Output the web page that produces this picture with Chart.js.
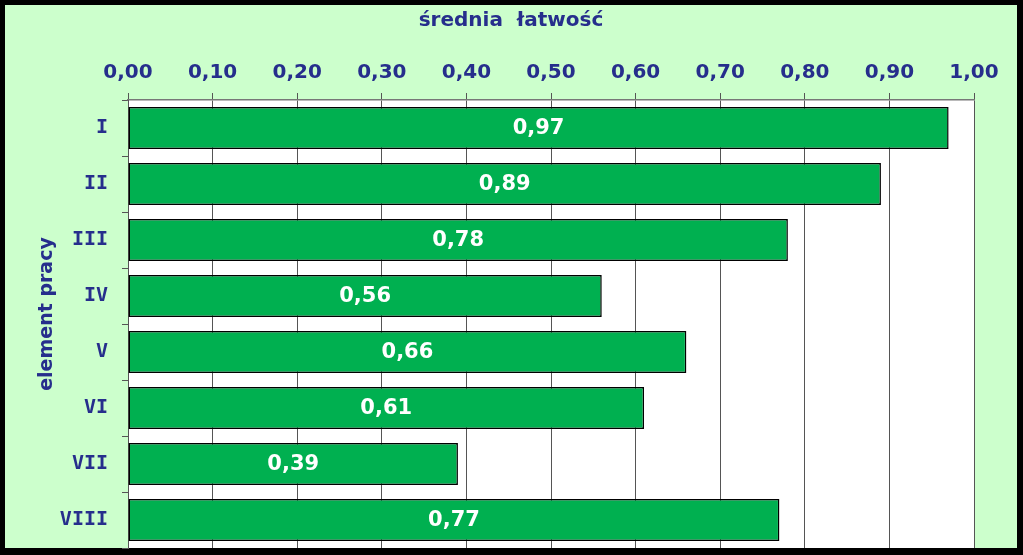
<!DOCTYPE html>
<html>
<head>
<meta charset="utf-8">
<script src="https://cdn.jsdelivr.net/npm/chart.js@4"></script>
<style>
  body { margin: 0; background: #000; }
  canvas { display: block; }
</style>
</head>
<body>
<canvas id="latwosc" width="1023" height="555"></canvas>
<script>
const elementy = ['I', 'II', 'III', 'IV', 'V', 'VI', 'VII', 'VIII'];
const latwosc = [0.97, 0.89, 0.78, 0.56, 0.66, 0.61, 0.39, 0.77];
const tytulX = 'średnia  łatwość';
const tytulY = 'element pracy';

const granat = '#262E8C';
const czcionka = 'DejaVu Sans';

// tlo, ramka, biale pole wykresu i oba tytuly
const tlo = {
    id: 'tlo',
    beforeDraw(chart) {
        const c = chart.ctx;
        const a = chart.chartArea;
        c.save();
        c.fillStyle = '#000000';
        c.fillRect(0, 0, chart.width, chart.height);
        c.fillStyle = '#CCFFCC';
        c.fillRect(5, 5, 1012, 543);
        c.fillStyle = '#FFFFFF';
        c.fillRect(a.left, a.top, a.right - a.left, a.bottom - a.top);
        c.fillStyle = granat;
        c.font = 'bold 20px "' + czcionka + '"';
        c.textAlign = 'center';
        c.textBaseline = 'middle';
        c.fillText(tytulX, 511, 21);
        c.translate(47, 314);
        c.rotate(-Math.PI / 2);
        c.font = 'bold 19px "' + czcionka + '"';
        c.fillText(tytulY, 0, 0);
        c.restore();
    }
};

// wartosci na slupkach
const etykiety = {
    id: 'etykiety',
    afterDatasetsDraw(chart) {
        const c = chart.ctx;
        const meta = chart.getDatasetMeta(0);
        c.save();
        c.fillStyle = '#FFFFFF';
        c.font = 'bold 21px "' + czcionka + '"';
        c.textAlign = 'center';
        c.textBaseline = 'middle';
        meta.data.forEach((bar, i) => {
            const x = (bar.base + bar.x) / 2;
            c.fillText(latwosc[i].toFixed(2).replace('.', ','), x, bar.y + 1);
        });
        c.restore();
    }
};

const ctx = document.getElementById('latwosc').getContext('2d');
const wykres = new Chart(ctx, {
    type: 'bar',
    data: {
        labels: elementy,
        datasets: [{
            label: tytulX,
            data: latwosc,
            backgroundColor: '#00B050',
            borderColor: '#000000',
            borderWidth: 1.5,
            borderSkipped: false,
            categoryPercentage: 1,
            barPercentage: 0.75
        }]
    },
    options: {
        indexAxis: 'y',
        responsive: false,
        animation: false,
        layout: {
            padding: { left: 5, top: 5, right: 49, bottom: 7 }
        },
        plugins: {
            legend: { display: false },
            tooltip: { enabled: false }
        },
        scales: {
            x: {
                position: 'top',
                min: 0,
                max: 1,
                afterFit(scale) { scale.height = 95; },
                ticks: {
                    stepSize: 0.1,
                    color: granat,
                    padding: 8,
                    font: { family: czcionka, size: 20, weight: 'bold' },
                    callback: (v) => v.toFixed(2).replace('.', ',')
                },
                grid: {
                    color: '#555555',
                    lineWidth: 1,
                    tickLength: 7
                },
                border: { color: '#777777', width: 1.5 }
            },
            y: {
                afterFit(scale) {
                    scale.width = 123;
                    scale.paddingTop = 0;
                    scale.paddingBottom = 0;
                },
                ticks: {
                    color: granat,
                    padding: 14,
                    font: { family: 'DejaVu Sans Mono', size: 20, weight: 'bold' }
                },
                grid: {
                    drawOnChartArea: false,
                    color: '#555555',
                    tickLength: 6
                },
                border: { color: '#555555', width: 1 }
            }
        }
    },
    plugins: [tlo, etykiety]
});
</script>
</body>
</html>
